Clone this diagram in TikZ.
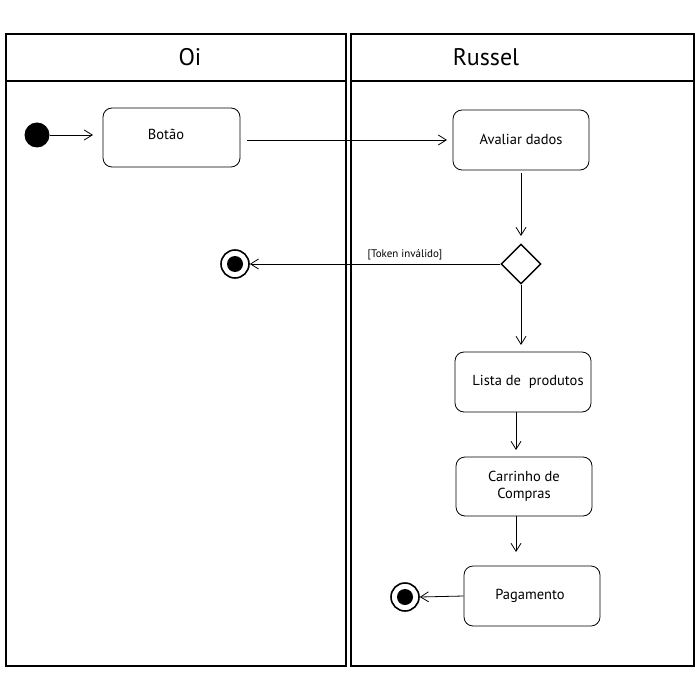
\documentclass[tikz,border=0pt]{standalone}
\usepackage{fontspec}
\setmainfont{PT Sans}
\usetikzlibrary{arrows.meta,shapes.geometric}
\begin{document}
\begin{tikzpicture}[x=1pt,y=-1pt,
  lane/.style={draw,line width=1.6pt},
  act/.style={draw,line width=0.8pt,rounded corners=9pt,minimum width=136pt,minimum height=60pt},
  txt/.style={font=\fontsize{14.5}{17}\selectfont,align=center},
  flow/.style={draw,line width=0.8pt,-{Straight Barb[length=8pt,width=10pt]}},
  startnode/.style={circle,fill=black,minimum size=25pt,inner sep=0pt},
  endnode/.style={circle,draw,line width=1.6pt,minimum size=28pt,inner sep=0pt,path picture={\fill (path picture bounding box.center) circle (8pt);}},
  decision/.style={diamond,draw,line width=1.4pt,minimum width=40pt,minimum height=40pt,inner sep=0pt},
  hdr/.style={font=\fontsize{24}{28}\selectfont}
]
\useasboundingbox (0,0) rectangle (700,700);
% lanes
\draw[lane] (6,34) rectangle (346,666);
\draw[lane] (6,34) -- (346,34) -- (346,81) -- (6,81) -- cycle;
\draw[lane] (351,34) rectangle (694,666);
\draw[lane] (351,81) -- (694,81);
\node[hdr] (h1) at (190,57) {Oi};
\node[hdr] (h2) at (486,57) {Russel};
% nodes
\node[startnode] (s) at (37,135) {};
\node[act,minimum width=137pt,minimum height=59pt] (b) at (171.5,137.5) {};
\node[txt] (bt) at (166,134) {Botão};
\node[act] (a) at (521,140) {};
\node[txt] (at) at (521,139) {Avaliar dados};
\node[decision] (d) at (521,264) {};
\node[endnode] (e1) at (235,264) {};
\node[act] (l) at (523,382) {};
\node[txt] (lt) at (528,382) {Lista de\ \ produtos};
\node[act,minimum height=59pt] (c) at (524,486.5) {};
\node[txt] (ct) at (524,486) {Carrinho de\\Compras};
\node[act] (p) at (532,596) {};
\node[txt] (pt) at (530,596) {Pagamento};
\node[endnode] (e2) at (405,597) {};
\node[font=\fontsize{11}{13}\selectfont] (lbl) at (405,255) {[Token inválido]};
% flows
\coordinate (s1) at (93,135);
\draw[flow] (s.east) -- (s1);
\coordinate (b1) at (247,140);
\coordinate (a1) at (447,140);
\draw[flow] (b1) -- (a1);
\coordinate (a2) at (521,173);
\coordinate (d1) at (521,236);
\draw[flow] (a2) -- (d1);
\draw[flow] (d.west) -- (e1.east);
\coordinate (l1) at (521,345);
\draw[flow] (d.south) -- (l1);
\coordinate (l2) at (516,412);
\coordinate (c1) at (516,450);
\draw[flow] (l2) -- (c1);
\coordinate (c2) at (516,516);
\coordinate (p1) at (516,552);
\draw[flow] (c2) -- (p1);
\draw[flow] (p.west) -- (e2.east);
\end{tikzpicture}
\end{document}
